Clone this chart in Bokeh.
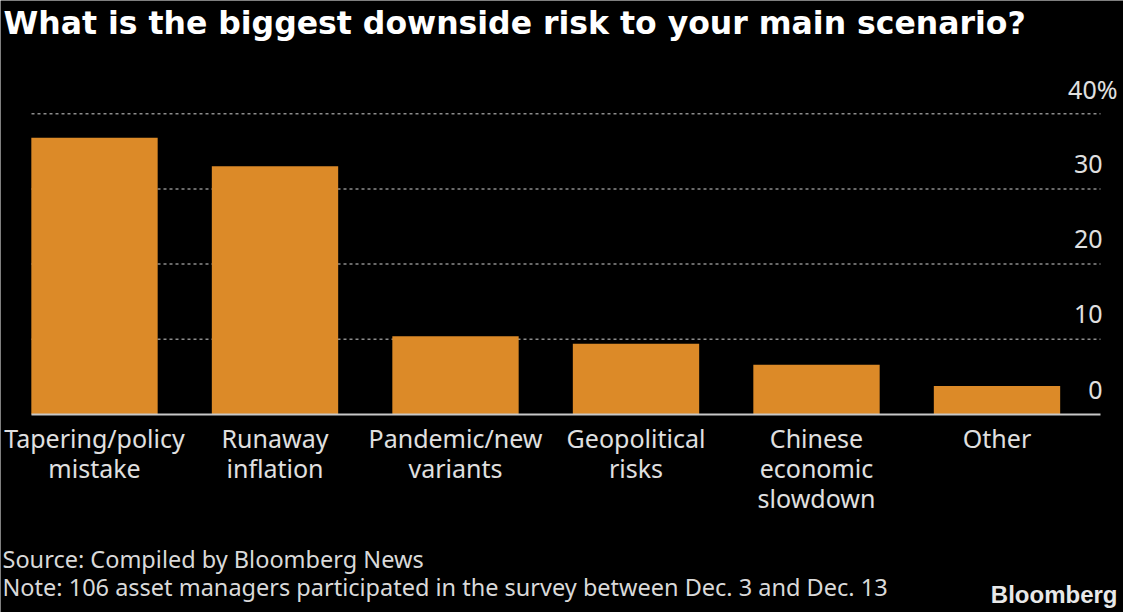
from bokeh.plotting import figure
from bokeh.models import Range1d
from bokeh.embed import file_html
from bokeh.resources import INLINE

# ---- data ----
categories = ["Tapering/policy\nmistake", "Runaway\ninflation", "Pandemic/new\nvariants",
              "Geopolitical\nrisks", "Chinese\neconomic\nslowdown", "Other"]
shares = [36.8, 33.0, 10.4, 9.4, 6.6, 3.8]
y_ticks = [0, 10, 20, 30, 40]
y_tick_labels = ["0", "10", "20", "30", "40%"]
title_text = "What is the biggest downside risk to your main scenario?"
source_text = "Source: Compiled by Bloomberg News"
note_text = "Note: 106 asset managers participated in the survey between Dec. 3 and Dec. 13"
logo_text = "Bloomberg"

# ---- layout (pixels of the 1123x612 canvas) ----
W, H = 1123, 612
CX0, PXX = 94.0, 180.5      # centre of first category, px per category
Y0PX, PXY = 414.0, 7.52     # px of value 0, px per unit


def dx(px):
    return (px - CX0) / PXX


def dy(py):
    return (Y0PX - py) / PXY


p = figure(width=W, height=H, x_range=Range1d(dx(0), dx(W)), y_range=Range1d(dy(H), dy(0)),
           output_backend="svg", toolbar_location=None,
           x_axis_location=None, y_axis_location=None,
           min_border=0, background_fill_color="black",
           border_fill_color="black", outline_line_color=None)
p.grid.visible = False

xs = list(range(len(categories)))

# gridlines (dotted)
grid_vals = y_ticks[1:]
p.segment(x0=[dx(31)] * len(grid_vals), x1=[dx(1100)] * len(grid_vals),
          y0=grid_vals, y1=grid_vals, line_color="#8c8c8c", line_width=1.5,
          line_dash="3 3")

# bars
p.vbar(x=xs, top=shares, bottom=0, width=0.7, fill_color="#dc8a28", line_color=None)

# baseline
p.segment(x0=[dx(31)], x1=[dx(1100)], y0=[y_ticks[0]], y1=[y_ticks[0]],
          line_color="#c8c8c8", line_width=2)

# category labels
p.text(x=xs, y=[0] * len(xs), text=categories, y_offset=6,
       text_align="center", text_baseline="top", text_font={"value": "Noto Sans"},
       text_font_size="25px", text_color="#e0e0e0", text_line_height=0.89)

# y tick labels (numbers right-aligned, % hanging)
x_off = [15 if t.endswith("%") else 0 for t in y_tick_labels]
p.text(x=[dx(1102)] * len(y_ticks), y=y_ticks, text=y_tick_labels, x_offset=x_off,
       y_offset=-25, text_align="right", text_baseline="middle",
       text_font={"value": "Noto Sans"}, text_font_size="25px", text_color="#e0e0e0")

# title
p.text(x=[dx(3)], y=[dy(22)], text=[title_text], text_align="left",
       text_baseline="middle", text_font={"value": "DejaVu Sans"},
       text_font_style="bold", text_font_size="31.5px", text_color="#ffffff")

# footer
p.text(x=[dx(2), dx(2)], y=[dy(558.5), dy(586.5)], text=[source_text, note_text],
       text_align="left", text_baseline="middle", text_font={"value": "Noto Sans"},
       text_font_size="23.5px", text_color="#d9d9d9")

# logo
p.text(x=[dx(1117)], y=[dy(594)], text=[logo_text], text_align="right",
       text_baseline="middle", text_font={"value": "Liberation Sans"},
       text_font_style="bold", text_font_size="24px", text_color="#e8e8e8")

open("out.html", "w").write(file_html(p, INLINE))
